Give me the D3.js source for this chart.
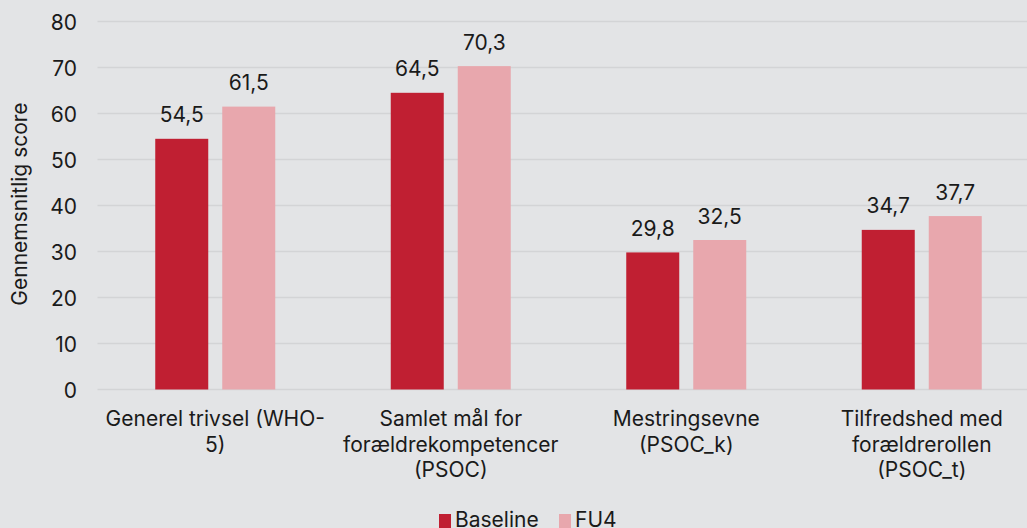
<!DOCTYPE html>
<html><head><meta charset="utf-8">
<script src="https://cdn.jsdelivr.net/npm/d3@7"></script>
<style>
html,body{margin:0;padding:0;background:#e3e4e6;}
svg{display:block;font-family:Inter,"Noto Sans",sans-serif;}
</style></head>
<body>
<svg id="chart" width="1027" height="528"></svg>
<script>
const categories = [
  ["Generel trivsel (WHO-", "5)"],
  ["Samlet mål for", "forældrekompetencer", "(PSOC)"],
  ["Mestringsevne", "(PSOC_k)"],
  ["Tilfredshed med", "forældrerollen", "(PSOC_t)"]
];
const seriesNames = ["Baseline", "FU4"];
const baseline = [54.5, 64.5, 29.8, 34.7];
const fu4 = [61.5, 70.3, 32.5, 37.7];
const yTicks = [0, 10, 20, 30, 40, 50, 60, 70, 80];
const colors = ["#c01f32", "#e8a7ad"];

const FS = 21;
const svg = d3.select("#chart");
const margin = {left: 97.5, top: 21.5, bottom: 389.5};
const plotW = 942;
const x = d3.scaleBand().domain(d3.range(categories.length)).range([margin.left, margin.left + plotW]).paddingInner(0).paddingOuter(0);
const y = d3.scaleLinear().domain([0, 80]).range([margin.bottom, margin.top]);
const barW = 53, gap = 14;
const sub = d3.scaleOrdinal().domain([0,1]).range([-(gap/2 + barW), gap/2]);

// gridlines
svg.append("g").selectAll("line").data(yTicks).join("line")
  .attr("x1", margin.left).attr("x2", 1027)
  .attr("y1", d => y(d)).attr("y2", d => y(d))
  .attr("stroke", "#d3d4d6").attr("stroke-width", 1.3);

// y axis labels
const yAxis = d3.axisLeft(y).tickValues(yTicks).tickSize(0).tickPadding(0);
const ya = svg.append("g").attr("transform", `translate(77,0)`).call(yAxis);
ya.select(".domain").remove();
ya.selectAll("text").attr("font-size", FS).attr("fill", "#1a1a1a").attr("font-family", "Inter,'Noto Sans',sans-serif").attr("dy", "0.36em");

svg.append("text").attr("transform", `translate(27,204) rotate(-90)`)
  .attr("text-anchor", "middle").attr("font-size", 21).attr("fill", "#1a1a1a")
  .text("Gennemsnitlig score");

const data = [baseline, fu4];
data.forEach((vals, si) => {
  const g = svg.append("g");
  g.selectAll("rect").data(vals).join("rect")
    .attr("x", (d, i) => x(i) + x.bandwidth()/2 + sub(si))
    .attr("width", barW)
    .attr("y", d => y(d))
    .attr("height", d => y(0) - y(d))
    .attr("fill", colors[si]);
  g.selectAll("text").data(vals).join("text")
    .attr("x", (d, i) => x(i) + x.bandwidth()/2 + sub(si) + barW/2)
    .attr("y", d => y(d) - 16.5)
    .attr("text-anchor", "middle").attr("font-size", FS).attr("fill", "#1a1a1a")
    .text(d => d3.format(".1f")(d).replace(".", ","));
});

// category labels
const cg = svg.append("g");
categories.forEach((lines, i) => {
  const t = cg.append("text").attr("text-anchor", "middle").attr("font-size", FS).attr("fill", "#1a1a1a");
  lines.forEach((l, j) => {
    t.append("tspan").attr("x", x(i) + x.bandwidth()/2).attr("y", 426 + j*25.5).text(l);
  });
});

// legend
const lg = svg.append("g");
const legX = [439, 559];
seriesNames.forEach((n, i) => {
  lg.append("rect").attr("x", legX[i]).attr("y", 514).attr("width", 12).attr("height", 14).attr("fill", colors[i]);
  lg.append("text").attr("x", legX[i] + 16).attr("y", 527).attr("font-size", FS).attr("fill", "#1a1a1a").text(n);
});
</script>
</body></html>
